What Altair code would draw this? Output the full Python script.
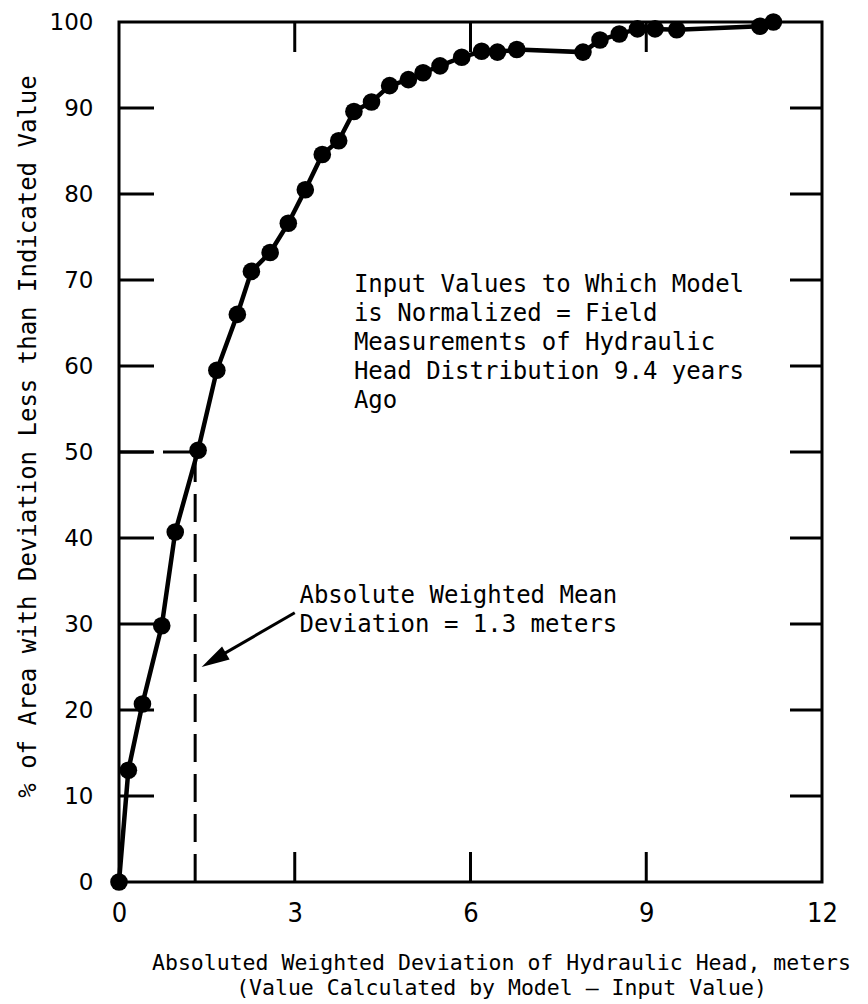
import altair as alt
import pandas as pd

# ---- data ----
dev_m = [0, 0.16, 0.40, 0.73, 0.96, 1.35, 1.67, 2.02, 2.26, 2.58, 2.89, 3.18, 3.47,
         3.75, 4.01, 4.31, 4.62, 4.94, 5.19, 5.48, 5.85, 6.19, 6.46, 6.79, 7.92,
         8.21, 8.54, 8.85, 9.15, 9.52, 10.94, 11.17]
pct_area = [0, 13.0, 20.7, 29.8, 40.7, 50.2, 59.5, 66.0, 71.0, 73.2, 76.6, 80.5, 84.6,
            86.2, 89.6, 90.7, 92.6, 93.3, 94.1, 94.9, 95.9, 96.6, 96.5, 96.8, 96.5,
            97.9, 98.6, 99.2, 99.2, 99.1, 99.5, 100.0]

x_domain = [0, 12]
y_domain = [0, 100]
x_label_values = [0, 3, 6, 9, 12]
y_label_values = [0, 10, 20, 30, 40, 50, 60, 70, 80, 90, 100]
x_inner_ticks = [3, 6, 9]
y_inner_ticks = [10, 20, 30, 40, 50, 60, 70, 80, 90]

mean_dev = 1.3
mean_level = 50

note_model = ["Input Values to Which Model", "is Normalized = Field",
              "Measurements of Hydraulic", "Head Distribution 9.4 years", "Ago"]
note_mean = ["Absolute Weighted Mean", "Deviation = 1.3 meters"]

x_title = ["Absoluted Weighted Deviation of Hydraulic Head, meters",
           "(Value Calculated by Model \u2014 Input Value)"]
y_title = "% of Area with Deviation Less than Indicated Value"

MONO = "DejaVu Sans Mono"
NARROW = "Liberation Sans Narrow, DejaVu Sans Condensed, Roboto Condensed, sans-serif"

xscale = alt.Scale(domain=x_domain, nice=False, zero=False)
yscale = alt.Scale(domain=y_domain, nice=False, zero=False)

X = alt.X("x:Q", scale=xscale, axis=alt.Axis(
    values=x_label_values, format="d", labelFont=NARROW, labelFontSize=27,
    labelColor="black", labelPadding=18, labelFlush=False, labelOverlap=False,
    ticks=False, tickSize=0, domain=False, grid=False,
    title=x_title, titleFont=MONO, titleFontSize=21.5, titleFontWeight="normal",
    titleColor="black", titleX=382, titleY=70, titleAlign="center",
    titleBaseline="top", titleLineHeight=25))
Y = alt.Y("y:Q", scale=yscale, axis=alt.Axis(
    values=y_label_values, format="d", labelFont="DejaVu Sans", labelFontSize=23,
    labelColor="black", labelPadding=26, labelFlush=False, labelOverlap=False,
    ticks=False, tickSize=0, domain=False, grid=False,
    title=y_title, titleFont=MONO, titleFontSize=24, titleFontWeight="normal",
    titleColor="black", titleAngle=270, titleX=-91, titleY=414,
    titleAlign="center", titleBaseline="middle"))

curve_df = pd.DataFrame({"x": dev_m, "y": pct_area})

line = alt.Chart(curve_df).mark_line(color="black", strokeWidth=4.5).encode(X, Y)
pts = alt.Chart(curve_df).mark_circle(color="black", opacity=1, size=310).encode(X, Y)

# inner tick marks (derived from the tick arrays and the domain edges)
left_df = pd.DataFrame({"y": y_inner_ticks, "x": x_domain[0]})
right_df = pd.DataFrame({"y": y_inner_ticks, "x": x_domain[1]})
bottom_df = pd.DataFrame({"x": x_inner_ticks, "y": y_domain[0]})
top_df = pd.DataFrame({"x": x_inner_ticks, "y": y_domain[1]})

left_ticks = alt.Chart(left_df).mark_rule(color="black", strokeWidth=3, x2Offset=35).encode(
    y=alt.Y("y:Q"), x=alt.X("x:Q"), x2=alt.X2("x"))
right_ticks = alt.Chart(right_df).mark_rule(color="black", strokeWidth=3, x2Offset=-32).encode(
    y=alt.Y("y:Q"), x=alt.X("x:Q"), x2=alt.X2("x"))
bottom_ticks = alt.Chart(bottom_df).mark_rule(color="black", strokeWidth=3, y2Offset=-30).encode(
    x=alt.X("x:Q"), y=alt.Y("y:Q"), y2=alt.Y2("y"))
top_ticks = alt.Chart(top_df).mark_rule(color="black", strokeWidth=3, y2Offset=30).encode(
    x=alt.X("x:Q"), y=alt.Y("y:Q"), y2=alt.Y2("y"))

# dashed guide for the mean deviation
vdash_df = pd.DataFrame({"x": [mean_dev], "y": [y_domain[0]], "y2": [mean_level]})
hdash_df = pd.DataFrame({"x": [x_domain[0]], "x2": [mean_dev], "y": [mean_level]})
vdash = alt.Chart(vdash_df).mark_rule(color="black", strokeWidth=3, strokeDash=[28, 12]).encode(
    x=alt.X("x:Q"), y=alt.Y("y:Q"), y2=alt.Y2("y2"))
hdash = alt.Chart(hdash_df).mark_rule(color="black", strokeWidth=3, strokeDash=[34, 10]).encode(
    y=alt.Y("y:Q"), x=alt.X("x:Q"), x2=alt.X2("x2"))

# arrow
arrow_df = pd.DataFrame({"x": [3.0], "y": [31.3], "x2": [1.55], "y2": [25.6]})
arrow_shaft = alt.Chart(arrow_df).mark_rule(color="black", strokeWidth=3).encode(
    x=alt.X("x:Q"), y=alt.Y("y:Q"), x2=alt.X2("x2"), y2=alt.Y2("y2"))
head_df = pd.DataFrame({"x": [1.41], "y": [25.0]})
arrow_head = alt.Chart(head_df).mark_point(
    shape="M0,0 L0.27,1 L-0.27,1 Z", size=3136, angle=240, filled=True,
    fill="black", strokeWidth=0, opacity=1).encode(x=alt.X("x:Q"), y=alt.Y("y:Q"))

note1_df = pd.DataFrame({"x": [4.01], "y": [70.76]})
note2_df = pd.DataFrame({"x": [3.08], "y": [34.7]})
txt_model = alt.Chart(note1_df).mark_text(
    text=note_model, align="left", baseline="top", font=MONO, fontSize=24,
    lineHeight=29, color="black").encode(x=alt.X("x:Q"), y=alt.Y("y:Q"))
txt_mean = alt.Chart(note2_df).mark_text(
    text=note_mean, align="left", baseline="top", font=MONO, fontSize=24,
    lineHeight=29.5, color="black").encode(x=alt.X("x:Q"), y=alt.Y("y:Q"))

chart = alt.layer(
    line, pts, left_ticks, right_ticks, bottom_ticks, top_ticks, vdash, hdash,
    arrow_shaft, arrow_head, txt_model, txt_mean
).properties(
    width=703, height=860,
    padding={"left": 111, "top": 14, "right": 38, "bottom": 122},
    autosize=alt.AutoSizeParams(type="none"),
    background="white",
).configure_view(stroke="black", strokeWidth=3).configure_axis(
    domain=False, ticks=False, grid=False)

chart.save("out.html", embed_options={"renderer": "svg", "actions": False})
